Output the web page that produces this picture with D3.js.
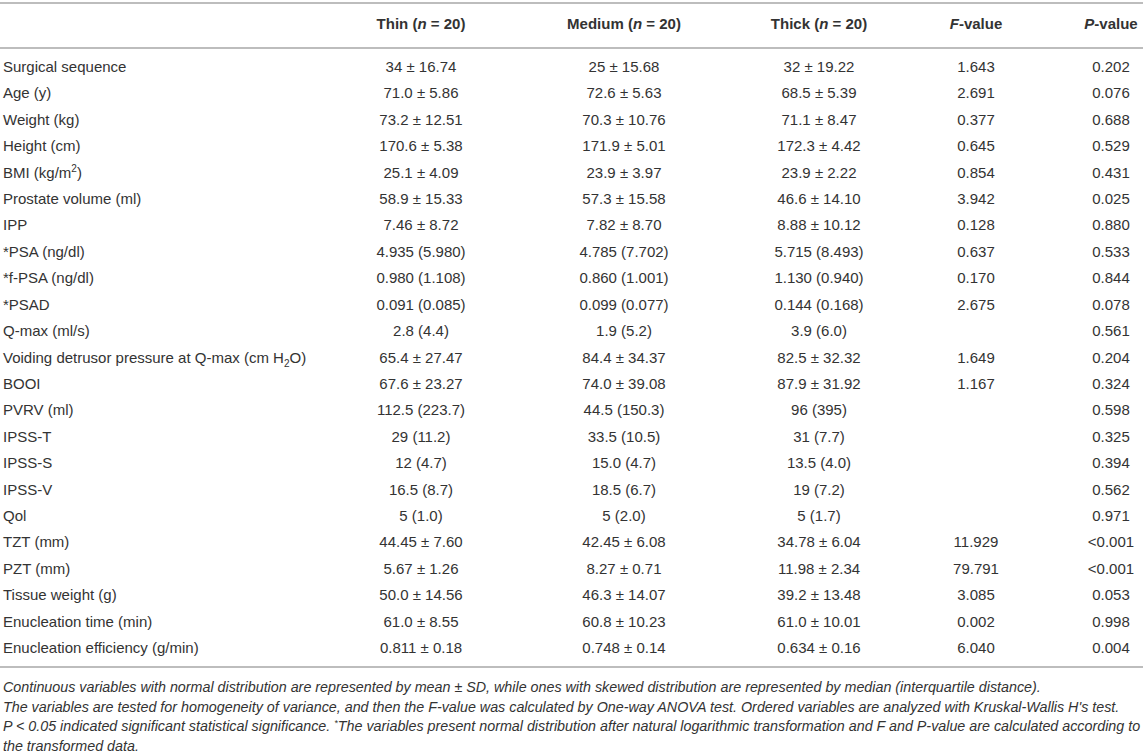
<!DOCTYPE html>
<html>
<head>
<meta charset="utf-8">
<script src="https://cdn.jsdelivr.net/npm/d3@7"></script>
<style>
  html, body { margin: 0; padding: 0; background: #fff; }
  svg text { font-family: "Liberation Sans", Arial, Helvetica, sans-serif; fill: #333; }
</style>
</head>
<body>
<section id="tabla"></section>
<script>
// table content
const rowLabels = [
  "Surgical sequence", "Age (y)", "Weight (kg)", "Height (cm)", "BMI (kg/m^2)",
  "Prostate volume (ml)", "IPP", "*PSA (ng/dl)", "*f-PSA (ng/dl)", "*PSAD",
  "Q-max (ml/s)", "Voiding detrusor pressure at Q-max (cm H_2O)", "BOOI", "PVRV (ml)",
  "IPSS-T", "IPSS-S", "IPSS-V", "Qol", "TZT (mm)", "PZT (mm)", "Tissue weight (g)",
  "Enucleation time (min)", "Enucleation efficiency (g/min)"
];
const thin = [
  "34 ± 16.74", "71.0 ± 5.86", "73.2 ± 12.51", "170.6 ± 5.38", "25.1 ± 4.09",
  "58.9 ± 15.33", "7.46 ± 8.72", "4.935 (5.980)", "0.980 (1.108)", "0.091 (0.085)",
  "2.8 (4.4)", "65.4 ± 27.47", "67.6 ± 23.27", "112.5 (223.7)", "29 (11.2)",
  "12 (4.7)", "16.5 (8.7)", "5 (1.0)", "44.45 ± 7.60", "5.67 ± 1.26",
  "50.0 ± 14.56", "61.0 ± 8.55", "0.811 ± 0.18"
];
const medium = [
  "25 ± 15.68", "72.6 ± 5.63", "70.3 ± 10.76", "171.9 ± 5.01", "23.9 ± 3.97",
  "57.3 ± 15.58", "7.82 ± 8.70", "4.785 (7.702)", "0.860 (1.001)", "0.099 (0.077)",
  "1.9 (5.2)", "84.4 ± 34.37", "74.0 ± 39.08", "44.5 (150.3)", "33.5 (10.5)",
  "15.0 (4.7)", "18.5 (6.7)", "5 (2.0)", "42.45 ± 6.08", "8.27 ± 0.71",
  "46.3 ± 14.07", "60.8 ± 10.23", "0.748 ± 0.14"
];
const thick = [
  "32 ± 19.22", "68.5 ± 5.39", "71.1 ± 8.47", "172.3 ± 4.42", "23.9 ± 2.22",
  "46.6 ± 14.10", "8.88 ± 10.12", "5.715 (8.493)", "1.130 (0.940)", "0.144 (0.168)",
  "3.9 (6.0)", "82.5 ± 32.32", "87.9 ± 31.92", "96 (395)", "31 (7.7)",
  "13.5 (4.0)", "19 (7.2)", "5 (1.7)", "34.78 ± 6.04", "11.98 ± 2.34",
  "39.2 ± 13.48", "61.0 ± 10.01", "0.634 ± 0.16"
];
const fValues = [
  "1.643", "2.691", "0.377", "0.645", "0.854", "3.942", "0.128", "0.637", "0.170", "2.675",
  "", "1.649", "1.167", "", "", "", "", "", "11.929", "79.791", "3.085", "0.002", "6.040"
];
const pValues = [
  "0.202", "0.076", "0.688", "0.529", "0.431", "0.025", "0.880", "0.533", "0.844", "0.078",
  "0.561", "0.204", "0.324", "0.598", "0.325", "0.394", "0.562", "0.971", "<0.001", "<0.001",
  "0.053", "0.998", "0.004"
];
const groups = ["Thin", "Medium", "Thick"];
const groupN = [20, 20, 20];
const columns = ["thin", "medium", "thick", "f", "p"];
const notes = [
  "Continuous variables with normal distribution are represented by mean ± SD, while ones with skewed distribution are represented by median (interquartile distance).",
  "The variables are tested for homogeneity of variance, and then the F-value was calculated by One-way ANOVA test. Ordered variables are analyzed with Kruskal-Wallis H's test.",
  "P < 0.05 indicated significant statistical significance. *The variables present normal distribution after natural logarithmic transformation and F and P-value are calculated according to",
  "the transformed data."
];

const width = 1143;
const height = 754;
const fontSize = 15;

const svg = d3.select("section#tabla")
  .append("svg")
  .attr("width", width)
  .attr("height", height);

// scales: columns horizontally, rows vertically
const xScale = d3.scaleOrdinal()
  .domain(columns)
  .range([421, 624, 819, 976, 1111]);

const yScale = d3.scalePoint()
  .domain(rowLabels)
  .range([67, 648]);

const noteScale = d3.scalePoint()
  .domain(d3.range(notes.length))
  .range([687, 746]);

// rules
const rules = [3, 48, 667];
svg.selectAll("line.rule")
  .data(rules)
  .enter()
  .append("line")
  .attr("class", "rule")
  .attr("x1", 0)
  .attr("x2", width)
  .attr("y1", d => d)
  .attr("y2", d => d)
  .attr("stroke", "#bdbdbd")
  .attr("stroke-width", 2);

// header
const headY = 24;
const head = svg.append("g").attr("font-weight", "bold").attr("font-size", fontSize);

groups.forEach((g, i) => {
  const t = head.append("text")
    .attr("x", xScale(columns[i]))
    .attr("y", headY)
    .attr("dy", "0.35em")
    .attr("text-anchor", "middle");
  t.append("tspan").text(g + " (");
  t.append("tspan").attr("font-style", "italic").text("n");
  t.append("tspan").text(" = " + groupN[i] + ")");
});

["F", "P"].forEach((letter, i) => {
  const t = head.append("text")
    .attr("x", xScale(columns[3 + i]))
    .attr("y", headY)
    .attr("dy", "0.35em")
    .attr("text-anchor", "middle");
  t.append("tspan").attr("font-style", "italic").text(letter);
  t.append("tspan").text("-value");
});

// row labels, ^ marks a superscript digit and _ a subscript digit
const baseShift = 5; // puts the text middle on the row line
const labels = svg.append("g").attr("font-size", fontSize)
  .selectAll("text")
  .data(rowLabels)
  .enter()
  .append("text")
  .attr("x", 3)
  .attr("y", d => yScale(d) + baseShift);

labels.each(function(d) {
  const t = d3.select(this);
  const parts = d.split(/([\^_]\d)/).filter(p => p);
  let back = 0;
  parts.forEach(p => {
    if (p[0] === "^") {
      t.append("tspan").attr("font-size", 10).attr("dy", -6).text(p[1]);
      back = 6;
    } else if (p[0] === "_") {
      t.append("tspan").attr("font-size", 10).attr("dy", 4).text(p[1]);
      back = -4;
    } else {
      const s = t.append("tspan").text(p);
      if (back) s.attr("dy", back);
      back = 0;
    }
  });
});

// value cells
const colData = [thin, medium, thick, fValues, pValues];
colData.forEach((vals, ci) => {
  svg.append("g").attr("font-size", fontSize)
    .selectAll("text")
    .data(vals)
    .enter()
    .append("text")
    .attr("x", xScale(columns[ci]))
    .attr("y", (d, i) => yScale(rowLabels[i]) + baseShift)
    .attr("text-anchor", "middle")
    .text(d => d);
});

// footnotes
const noteG = svg.append("g")
  .attr("font-size", 14.3)
  .attr("font-style", "italic");

noteG.selectAll("text")
  .data(notes)
  .enter()
  .append("text")
  .attr("x", 3)
  .attr("y", (d, i) => noteScale(i) + baseShift)
  .each(function(d, i) {
    const t = d3.select(this);
    if (i === 2) {
      const star = d.indexOf("*");
      t.append("tspan").text(d.slice(0, star));
      t.append("tspan").attr("font-size", 9).attr("dy", -5).text("*");
      t.append("tspan").attr("dy", 5).text(d.slice(star + 1));
    } else {
      t.text(d);
    }
  });
</script>
</body>
</html>
